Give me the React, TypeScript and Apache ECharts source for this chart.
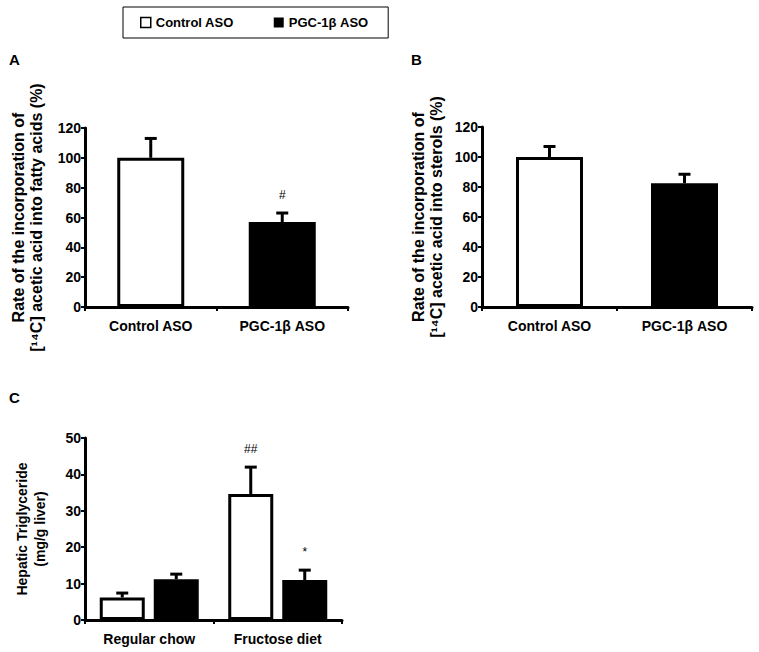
import React, { useEffect, useRef } from 'react';
import * as echarts from 'echarts';

// ---- data ----
const groupNames = ['Control ASO', 'PGC-1β ASO'];
const fattyAcidMean = [100, 57];
const fattyAcidErr = [13, 6];
const fattyAcidMarks = ['', '#'];
const sterolMean = [100, 82.5];
const sterolErr = [7, 6];
const sterolMarks = ['', ''];
const dietCategories = ['Regular chow', 'Fructose diet'];
const tgControlMean = [6.2, 34.6];
const tgControlErr = [1.2, 7.4];
const tgControlMarks = ['', '##'];
const tgPgcMean = [11.2, 11.0];
const tgPgcErr = [1.4, 2.7];
const tgPgcMarks = ['', '*'];
const pctTicks = { min: 0, max: 120, interval: 20 };
const tgTicks = { min: 0, max: 50, interval: 10 };

const FONT = '"Liberation Sans", Arial, sans-serif';
const barColors = ['#ffffff', '#000000'];

function errorRenderer(offsetPx: number, marks: string[]) {
  return (params: any, api: any) => {
    const cat = api.value(0);
    const mean = api.value(1);
    const top = api.value(2);
    const base = api.coord([cat, mean]);
    const tip = api.coord([cat, top]);
    const x = base[0] + offsetPx;
    const children: any[] = [
      { type: 'line', shape: { x1: x, y1: base[1], x2: x, y2: tip[1] }, style: { stroke: '#000', lineWidth: 3 } },
      { type: 'line', shape: { x1: x - 6, y1: tip[1], x2: x + 6, y2: tip[1] }, style: { stroke: '#000', lineWidth: 3 } },
    ];
    const m = marks[params.dataIndex];
    if (m) {
      children.push({
        type: 'text',
        x,
        y: tip[1] - 18,
        style: { text: m, fill: '#000', font: `12px ${FONT}`, align: 'center', verticalAlign: 'middle' },
      });
    }
    return { type: 'group', children };
  };
}

function errData(mean: number[], err: number[]) {
  return mean.map((m, i) => [i, m, m + err[i]]);
}

function xAxisCfg(gridIndex: number, data: string[]) {
  return {
    type: 'category',
    gridIndex,
    data,
    axisLine: { lineStyle: { color: '#000', width: 3 } },
    axisTick: { show: true, length: 4, lineStyle: { color: '#000', width: 2 } },
    axisLabel: { color: '#000', fontFamily: FONT, fontWeight: 'bold', fontSize: 14, margin: 12 },
  };
}

function yAxisCfg(gridIndex: number, ticks: any, name: string, nameGap: number, nameSize: number) {
  return {
    type: 'value',
    gridIndex,
    min: ticks.min,
    max: ticks.max,
    interval: ticks.interval,
    name,
    nameLocation: 'middle',
    nameRotate: 90,
    nameGap,
    nameTextStyle: { color: '#000', fontFamily: FONT, fontWeight: 'bold', fontSize: nameSize, lineHeight: 18 },
    splitLine: { show: false },
    axisLine: { show: true, lineStyle: { color: '#000', width: 3 } },
    axisTick: { show: true, length: 4, lineStyle: { color: '#000', width: 2 } },
    axisLabel: { color: '#000', fontFamily: FONT, fontWeight: 'bold', fontSize: 14, margin: 4 },
  };
}

export default function App() {
  const ref = useRef<HTMLDivElement>(null);
  useEffect(() => {
    if (!ref.current) return;
    const chart = echarts.init(ref.current, null, { renderer: 'svg' });
    const barItems = (vals: number[]) =>
      vals.map((v, i) => ({ value: v, itemStyle: { color: barColors[i], borderColor: '#000', borderWidth: 3 } }));
    chart.setOption({
      animation: false,
      backgroundColor: '#fff',
      title: [
        { text: 'A', left: 9, top: 52, padding: 0, textStyle: { fontFamily: FONT, fontWeight: 'bold', fontSize: 15, color: '#000' } },
        { text: 'B', left: 411, top: 52, padding: 0, textStyle: { fontFamily: FONT, fontWeight: 'bold', fontSize: 15, color: '#000' } },
        { text: 'C', left: 9, top: 390, padding: 0, textStyle: { fontFamily: FONT, fontWeight: 'bold', fontSize: 15, color: '#000' } },
      ],
      legend: {
        left: 123,
        top: 7,
        orient: 'horizontal',
        padding: [9, 20, 9, 17],
        itemGap: 40,
        itemWidth: 10,
        itemHeight: 10,
        borderColor: '#000',
        borderWidth: 1,
        textStyle: { fontFamily: FONT, fontWeight: 'bold', fontSize: 13, color: '#000' },
        data: [
          { name: groupNames[0], icon: 'rect', itemStyle: { color: '#fff', borderColor: '#000', borderWidth: 1.5 } },
          { name: groupNames[1], icon: 'rect', itemStyle: { color: '#000', borderColor: '#000', borderWidth: 0 } },
        ],
      },
      grid: [
        { left: 85, top: 128, width: 263, height: 179 },
        { left: 482, top: 127, width: 270, height: 180 },
        { left: 85, top: 438, width: 257, height: 182 },
      ],
      xAxis: [xAxisCfg(0, groupNames), xAxisCfg(1, groupNames), xAxisCfg(2, dietCategories)],
      yAxis: [
        yAxisCfg(0, pctTicks, 'Rate of the incorporation of\n[¹⁴C] acetic acid into fatty acids (%)', 40, 16),
        yAxisCfg(1, pctTicks, 'Rate of the incorporation of\n[¹⁴C] acetic acid into sterols (%)', 37, 16),
        yAxisCfg(2, tgTicks, 'Hepatic Triglyceride\n(mg/g liver)', 36, 14),
      ],
      series: [
        { type: 'bar', name: 'Fatty acids', xAxisIndex: 0, yAxisIndex: 0, barWidth: 67, data: barItems(fattyAcidMean) },
        { type: 'custom', name: 'Fatty acids err', xAxisIndex: 0, yAxisIndex: 0, z: 5, renderItem: errorRenderer(0, fattyAcidMarks), data: errData(fattyAcidMean, fattyAcidErr) },
        { type: 'bar', name: 'Sterols', xAxisIndex: 1, yAxisIndex: 1, barWidth: 67, data: barItems(sterolMean) },
        { type: 'custom', name: 'Sterols err', xAxisIndex: 1, yAxisIndex: 1, z: 5, renderItem: errorRenderer(0, sterolMarks), data: errData(sterolMean, sterolErr) },
        {
          type: 'bar', name: groupNames[0], xAxisIndex: 2, yAxisIndex: 2, barWidth: 45, barGap: '20%',
          itemStyle: { color: '#fff', borderColor: '#000', borderWidth: 3 }, data: tgControlMean,
        },
        {
          type: 'bar', name: groupNames[1], xAxisIndex: 2, yAxisIndex: 2, barWidth: 45, barGap: '20%',
          itemStyle: { color: '#000', borderColor: '#000', borderWidth: 3 }, data: tgPgcMean,
        },
        { type: 'custom', name: 'TG control err', xAxisIndex: 2, yAxisIndex: 2, z: 5, renderItem: errorRenderer(-27, tgControlMarks), data: errData(tgControlMean, tgControlErr) },
        { type: 'custom', name: 'TG pgc err', xAxisIndex: 2, yAxisIndex: 2, z: 5, renderItem: errorRenderer(27, tgPgcMarks), data: errData(tgPgcMean, tgPgcErr) },
      ],
    });
    return () => chart.dispose();
  }, []);
  return <div ref={ref} style={{ width: 759, height: 652, position: 'absolute', left: 0, top: 0 }} />;
}
